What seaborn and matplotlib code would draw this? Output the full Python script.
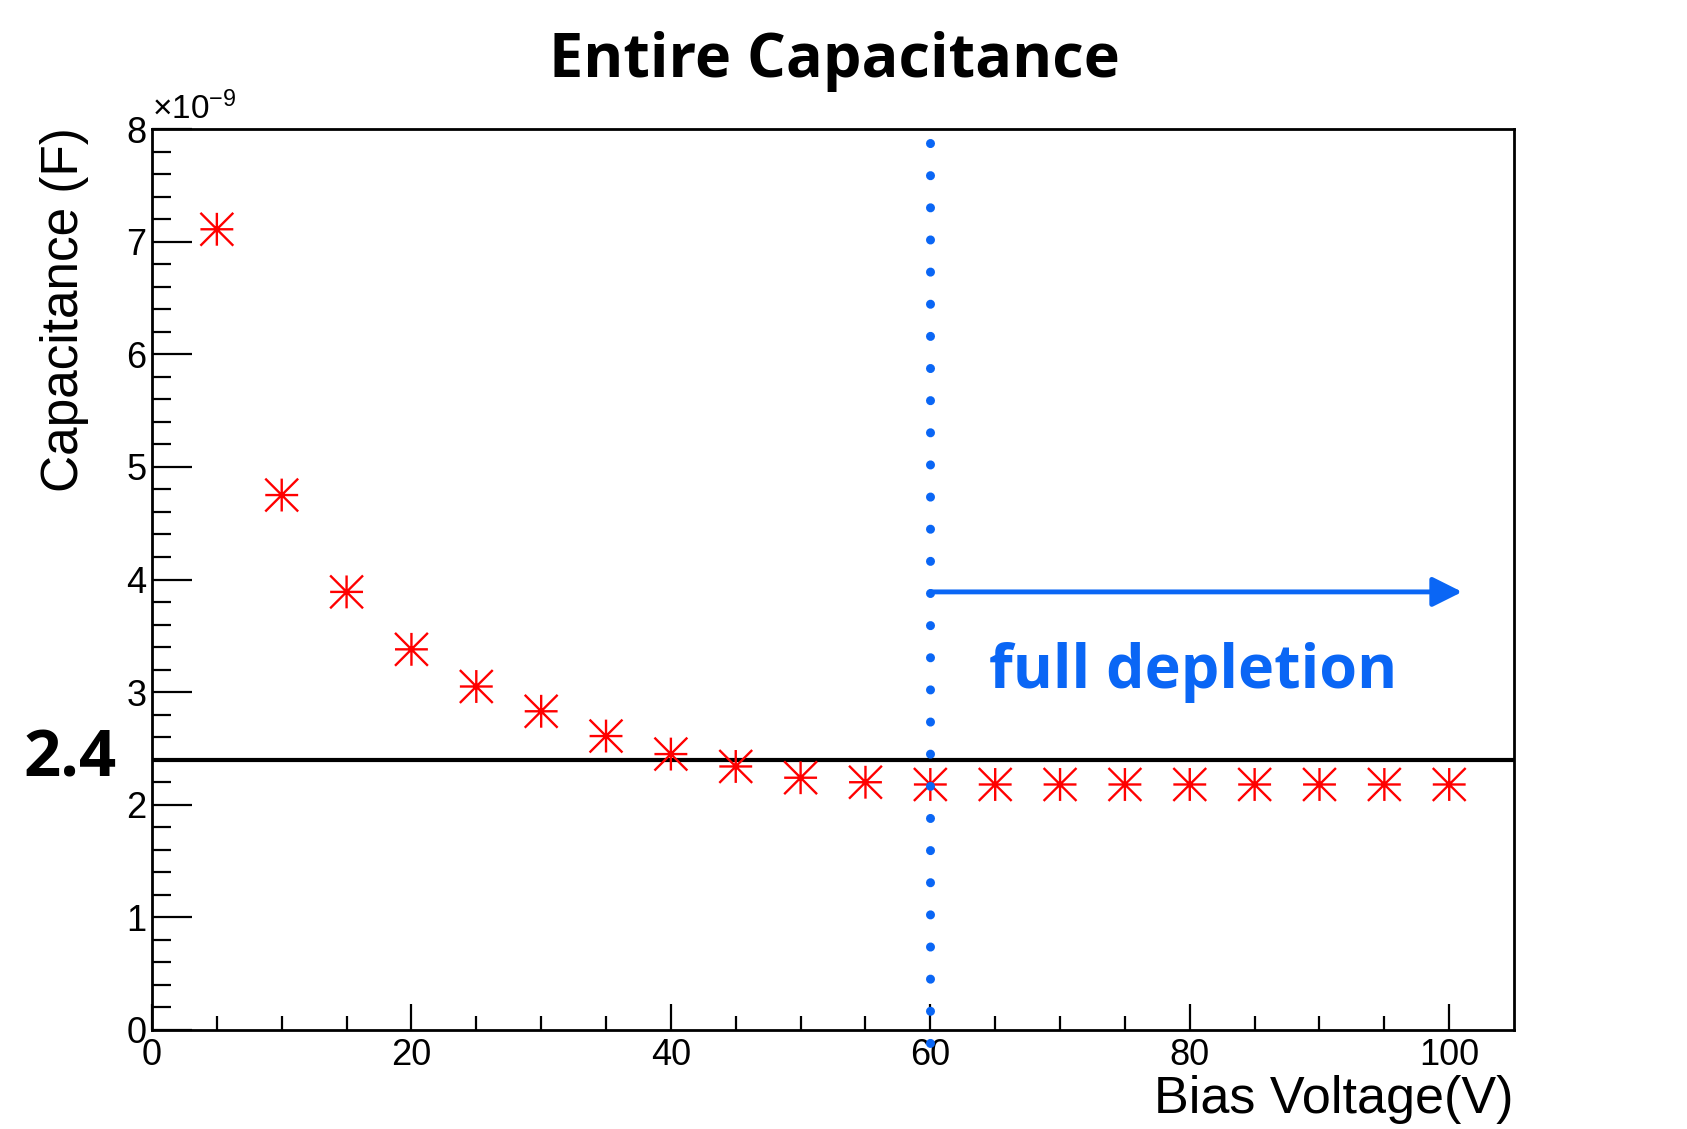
import numpy as np
import pandas as pd
import seaborn as sns
import matplotlib.pyplot as plt
from matplotlib.path import Path

# bias voltage (V) and measured capacitance (units of 1e-9 F)
voltage = [5, 10, 15, 20, 25, 30, 35, 40, 45, 50, 55, 60, 65, 70, 75, 80, 85, 90, 95, 100]
capacitance = [7.11, 4.75, 3.89, 3.38, 3.05, 2.83, 2.61, 2.45, 2.34, 2.24, 2.20, 2.18,
               2.18, 2.18, 2.18, 2.18, 2.18, 2.18, 2.18, 2.18]
plateau_level = 2.4
depletion_voltage = 60
arrow_level = 3.89
arrow_end = 101

df = pd.DataFrame({'voltage': voltage, 'capacitance': capacitance})

sns.set_style('ticks')
plt.rcParams['font.family'] = ['Liberation Sans', 'DejaVu Sans']
plt.rcParams['mathtext.fontset'] = 'custom'
plt.rcParams['mathtext.rm'] = 'Liberation Sans'
plt.rcParams['mathtext.it'] = 'Liberation Sans'
for key in ['text.color', 'axes.labelcolor', 'xtick.color', 'ytick.color', 'axes.edgecolor']:
    plt.rcParams[key] = 'black'

blue = '#0a66f5'
red = '#ff0000'
bold_font = ['Open Sans', 'DejaVu Sans']

# ROOT-like star marker: vertical, horizontal and two corner diagonals
star = Path([(0, -1), (0, 1), (-1, 0), (1, 0), (-1, -1), (1, 1), (-1, 1), (1, -1)],
            [Path.MOVETO, Path.LINETO] * 4)

fig = plt.figure(figsize=(16.87, 11.29), dpi=100, facecolor='white')
ax = fig.add_axes([0.0901, 0.0877, 0.8074, 0.798])

sns.scatterplot(data=df, x='voltage', y='capacitance', marker=star, color=red,
                edgecolor=red, facecolor='none', s=560, linewidth=1.7, ax=ax, zorder=3)

ax.axhline(plateau_level, color='black', lw=3, zorder=2)
ax.plot([depletion_voltage, depletion_voltage], [7.88, -0.16], color=blue, lw=6.5,
        linestyle=(0, (0.01, 3.55)), dash_capstyle='round', solid_capstyle='round',
        clip_on=False, zorder=4)
ax.annotate('', xy=(arrow_end, arrow_level), xytext=(depletion_voltage, arrow_level),
            arrowprops=dict(arrowstyle='-|>,head_length=0.4,head_width=0.2', color=blue,
                            lw=3.5, mutation_scale=45, shrinkA=0, shrinkB=0), zorder=4)
ax.text(64.5, 3.17, 'full depletion', color=blue, fontsize=44, fontweight='bold',
        family=bold_font, ha='left', va='center')

ax.set_xlim(0, 105)
ax.set_ylim(0, 8)
ax.set_xticks([0, 20, 40, 60, 80, 100])
ax.set_xticks(np.arange(0, 105, 5), minor=True)
ax.set_yticks(range(0, 9))
ax.set_yticks(np.arange(0, 8.01, 0.2), minor=True)
ax.set_xticklabels(['0', '20', '40', '60', '80', '100'])
ax.set_yticklabels(['0', '1', '2', '3', '4', '5', '6', '7', '8'])
ax.tick_params(axis='y', which='major', direction='in', length=29, width=1.6, labelsize=26, pad=4)
ax.tick_params(axis='y', which='minor', direction='in', length=14, width=1.6)
ax.tick_params(axis='x', which='major', direction='in', length=19, width=1.6, labelsize=26, pad=6)
ax.tick_params(axis='x', which='minor', direction='in', length=10, width=1.6)
for side in ax.spines.values():
    side.set_linewidth(2)
    side.set_color('black')
ax.set_xlabel('')
ax.set_ylabel('')

ax.text(0.0, 1.003, r'$\times10^{-9}$', transform=ax.transAxes, fontsize=24,
        ha='left', va='bottom')
ax.text(-0.026, plateau_level, '2.4', transform=ax.get_yaxis_transform(), fontsize=47,
        fontweight='bold', family=bold_font, ha='right', va='center')

fig.text(834 / 1687, 1 - 61 / 1129, 'Entire Capacitance', fontsize=44, fontweight='bold',
         family=bold_font, ha='center', va='center')
fig.text(65 / 1687, 1 - 127 / 1129, 'Capacitance (F)', rotation=90, fontsize=37,
         ha='center', va='top')
fig.text(1514 / 1687, 1 - 1100 / 1129, 'Bias Voltage(V)', fontsize=37.5,
         ha='right', va='center')

fig.savefig('out.png', dpi=100, facecolor='white')
